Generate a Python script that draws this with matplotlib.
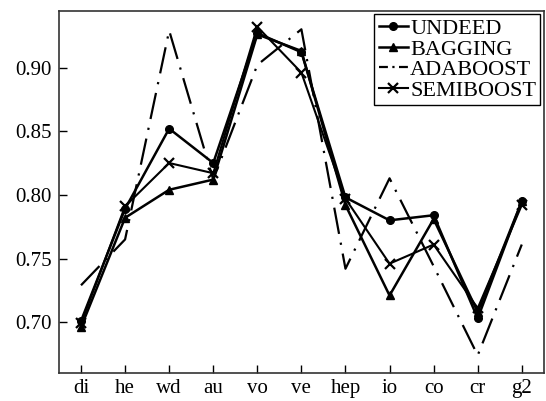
import matplotlib
matplotlib.use("Agg")
import matplotlib.pyplot as plt
import numpy as np

categories = ["di", "he", "wd", "au", "vo", "ve", "hep", "io", "co", "cr", "g2"]
undeed    = [0.701, 0.789, 0.852, 0.825, 0.927, 0.912, 0.798, 0.780, 0.784, 0.703, 0.795]
bagging   = [0.696, 0.782, 0.804, 0.812, 0.926, 0.913, 0.792, 0.721, 0.781, 0.708, 0.795]
adaboost  = [0.729, 0.765, 0.929, 0.812, 0.902, 0.930, 0.742, 0.813, 0.744, 0.674, 0.761]
semiboost = [0.699, 0.791, 0.825, 0.817, 0.932, 0.896, 0.797, 0.746, 0.761, 0.711, 0.792]
yticks = [0.70, 0.75, 0.80, 0.85, 0.90]

plt.rcParams['font.family'] = ['Liberation Serif', 'DejaVu Serif']

fig = plt.figure(figsize=(5.46, 4.01), dpi=100)
ax = fig.add_axes([0.108, 0.071, 0.888, 0.902])
x = np.arange(len(categories))

ax.plot(x, undeed, color='black', lw=1.8, marker='o', ms=5.5, label='UNDEED')
ax.plot(x, bagging, color='black', lw=1.8, marker='^', ms=5.5, label='BAGGING')
ax.plot(x, adaboost, color='black', lw=1.6, linestyle=(0, (12, 4, 1, 4)), label='ADABOOST')
ax.plot(x, semiboost, color='black', lw=1.5, marker='x', ms=7, mew=1.6, label='SEMIBOOST')

ax.set_xlim(-0.5, len(categories) - 0.5)
ax.set_ylim(0.6605, 0.9445)
ax.set_xticks(x)
ax.set_xticklabels(categories)
ax.set_yticks(yticks)
ax.set_yticklabels([f"{v:.2f}" for v in yticks])
ax.tick_params(direction='in', length=6, width=1, labelsize=15, pad=5,
               top=False, right=False)
for s in ax.spines.values():
    s.set_linewidth(1.2)
    s.set_color('#333333')

leg = ax.legend(loc='upper right', fontsize=16, frameon=True, fancybox=False,
                edgecolor='black', framealpha=1, handlelength=1.3,
                handletextpad=0.1, labelspacing=0.0, borderpad=0.2,
                borderaxespad=0.15)
leg.get_frame().set_linewidth(1.0)
for h in leg.get_lines():
    if h.get_linestyle() not in ('-', 'solid'):
        h.set_linestyle((0, (4, 2, 1, 2)))

fig.savefig("out.png", dpi=100)
